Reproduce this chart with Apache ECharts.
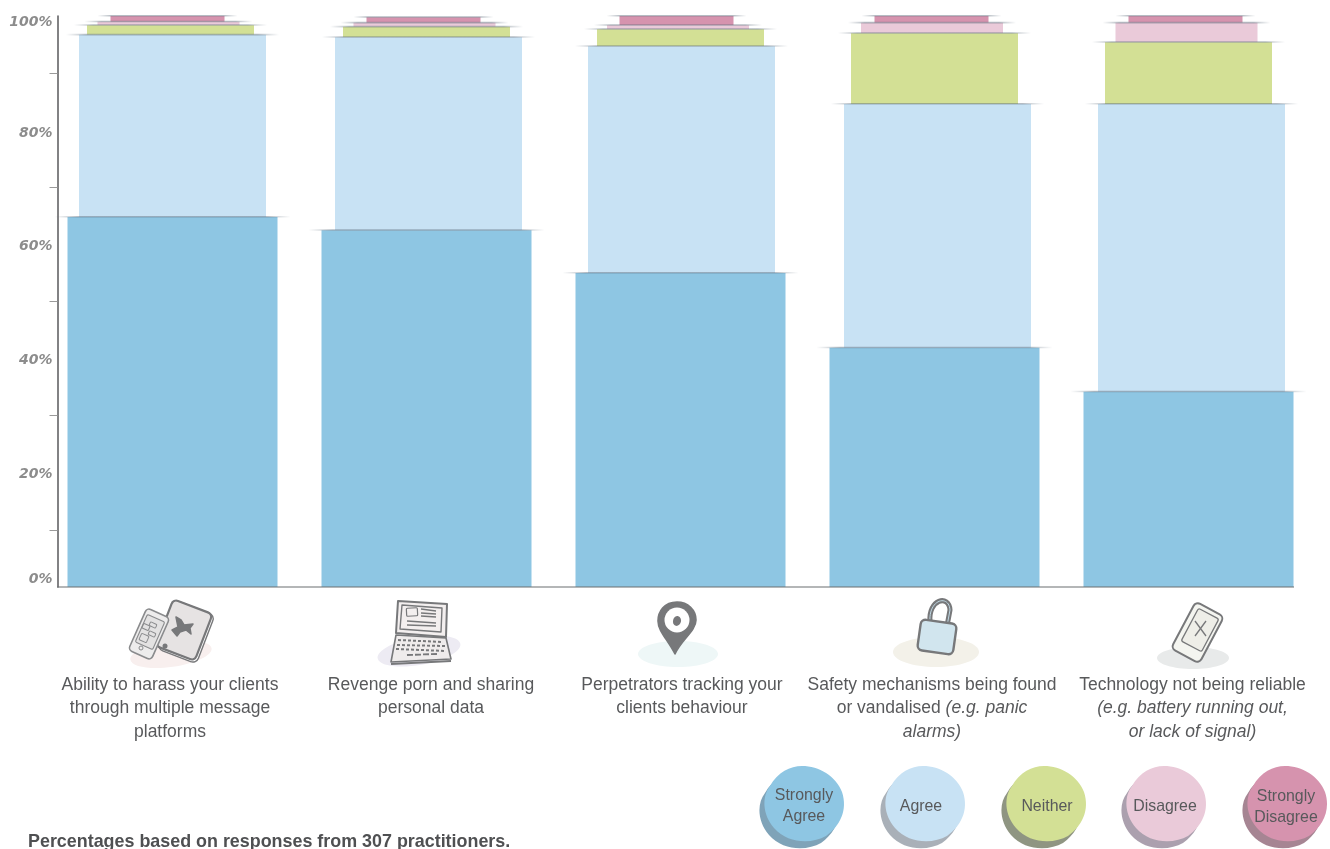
<!DOCTYPE html>
<html>
<head>
<meta charset="utf-8">
<style>html,body{margin:0;padding:0;background:#fff}#chart{width:1330px;height:849px}</style>
<script src="https://cdn.jsdelivr.net/npm/echarts@6/dist/echarts.min.js"></script>
</head>
<body>
<div id="chart"></div>
<script>
// ---- data ----
const categoryLines = [
  ['Ability to harass your clients', 'through multiple message', 'platforms'],
  ['Revenge porn and sharing', 'personal data'],
  ['Perpetrators tracking your', 'clients behaviour'],
  ['Safety mechanisms being found', 'or vandalised *(e.g. panic', '*alarms)'],
  ['Technology not being reliable', '*(e.g. battery running out,', '*or lack of signal)']
];
const seriesNames = ['Strongly Agree', 'Agree', 'Neither', 'Disagree', 'Strongly Disagree'];
const stronglyAgree = [64.8, 62.5, 55.0, 41.9, 34.2];
const agree = [31.9, 33.8, 39.7, 42.7, 50.4];
const neither = [1.7, 1.8, 3.0, 12.4, 10.8];
const disagree = [0.6, 0.7, 0.7, 1.8, 3.4];
const stronglyDisagree = [1.0, 1.0, 1.6, 1.2, 1.2];
const yLabelValues = [0, 20, 40, 60, 80, 100];
const yTickValues = [10, 30, 50, 70, 90];
const footnote = 'Percentages based on responses from 307 practitioners.';

// ---- styling ----
const seriesValues = [stronglyAgree, agree, neither, disagree, stronglyDisagree];
const colors = ['#8EC6E3', '#C8E2F4', '#D3E095', '#EACAD9', '#D693AE'];
const shadows = ['#7FA3B8', '#A9B0B8', '#8F9582', '#ABA0AE', '#A68593'];
const bandShare = [210, 187, 167, 142, 114].map(w => w / 254);
// the hand-drawn stacks are not perfectly centred: sideways nudge per series, per stack
const handNudge = [
  [0, 0, 0, 0, 0],
  [0, 2, 1, 3, 3],
  [-2, 0, 0, 0, 0],
  [-4, -2, -2.5, -2.5, -2],
  [-5, -3, -4, -3, -3]
];
const labelShift = [-5, 9, 3, -5, 8];
const font = '"Liberation Sans", Arial, sans-serif';
const textColor = '#58595b';

const yLabelNudge = {0: 'up', 80: 'down', 100: 'down2'};

function axisLabelFormatter(value, index) {
  const parts = categoryLines[index].map(line => {
    const star = line.indexOf('*');
    const toks = [];
    if (star < 0) toks.push(['n', line]);
    else {
      if (star > 0) toks.push(['n', line.slice(0, star)]);
      toks.push(['i', line.slice(star + 1)]);
    }
    // the sideways padding goes on one token only, so that it does not open a gap inside the line
    const padded = labelShift[index] >= 0 ? 0 : toks.length - 1;
    return toks.map((t, k) => '{' + t[0] + (k === padded ? 'p' : 'x') + index + '|' + t[1] + '}').join('');
  });
  return parts.join('\n');
}
const richCat = {};
labelShift.forEach((s, i) => {
  const padding = s >= 0 ? [0, 0, 0, s] : [0, -s, 0, 0];
  const base = {fontFamily: font, fontSize: 17.5, color: textColor, lineHeight: 23.6};
  richCat['np' + i] = Object.assign({padding}, base);
  richCat['nx' + i] = Object.assign({}, base);
  richCat['ip' + i] = Object.assign({padding, fontStyle: 'italic'}, base);
  richCat['ix' + i] = Object.assign({fontStyle: 'italic'}, base);
});

const totals = categoryLines.map(() => 0);
const customSeries = seriesValues.map((vals, si) => {
  const rows = vals.map((v, ci) => {
    const row = [ci, totals[ci], totals[ci] + v];
    totals[ci] += v;
    return row;
  });
  return {
    type: 'custom',
    name: seriesNames[si],
    z: 10 - si,
    encode: {x: 0, y: [1, 2]},
    data: rows,
    clip: false,
    itemStyle: {color: colors[si]},
    renderItem: function (params, api) {
      const cat = api.value(0);
      const low = api.coord([cat, api.value(1)]);
      const high = api.coord([cat, api.value(2)]);
      const band = api.size([1, 0])[0];
      const w = band * bandShare[si];
      const cx = low[0] + handNudge[si][cat];
      const ext = 13;
      return {
        type: 'group',
        children: [
          {type: 'rect', shape: {x: cx - w / 2, y: high[1], width: w, height: low[1] - high[1]},
           style: {fill: colors[si]}},
          {type: 'rect', shape: {x: cx - w / 2 - ext, y: high[1] - 1, width: w + 2 * ext, height: 1.6},
           style: {fill: {type: 'linear', x: 0, y: 0, x2: 1, y2: 0, colorStops: [
             {offset: 0, color: 'rgba(90,105,120,0)'},
             {offset: 0.1, color: 'rgba(90,105,120,0.45)'},
             {offset: 0.9, color: 'rgba(90,105,120,0.45)'},
             {offset: 1, color: 'rgba(90,105,120,0)'}]}}}
        ]
      };
    }
  };
});

// ---- decoration helpers (icons, legend blobs) ----
const ink = '#77787a';
const ell = (cx, cy, rx, ry, fill, rot) => ({type: 'ellipse', x: cx, y: cy, rotation: (rot || 0) * Math.PI / 180,
  shape: {cx: 0, cy: 0, rx, ry}, style: {fill}});
const path = (d, style) => ({type: 'path', shape: {pathData: d}, style: Object.assign({fill: 'none', stroke: ink, lineWidth: 1.6, lineJoin: 'round', lineCap: 'round'}, style)});
const poly = (pts, style) => ({type: 'polygon', shape: {points: pts}, style: Object.assign({fill: 'none', stroke: ink, lineWidth: 1.6, lineJoin: 'round'}, style)});
const ln = (x1, y1, x2, y2, style) => ({type: 'line', shape: {x1, y1, x2, y2}, style: Object.assign({stroke: ink, lineWidth: 1.3}, style)});
const circ = (cx, cy, r, style) => ({type: 'circle', shape: {cx, cy, r}, style: Object.assign({fill: ink}, style)});
const rrect = (cx, cy, w, h, deg, r, style) => ({type: 'rect', x: cx, y: cy, rotation: -deg * Math.PI / 180,
  shape: {x: -w / 2, y: -h / 2, width: w, height: h, r}, style: Object.assign({fill: 'none', stroke: ink, lineWidth: 1.6}, style)});

const icons = [
  // tablet + phone
  ell(171, 654, 41, 13, '#F8EFEE', 8),
  rrect(186, 632, 42, 52, 21, 6, {fill: '#fff', lineWidth: 1.4}),
  rrect(184, 630, 42, 50, 21, 5, {fill: '#E6E3E3', lineWidth: 2.2}),
  rrect(149, 634, 25, 46, 24, 4, {fill: '#EDECEC', stroke: '#8a8b8d'}),
  rrect(150, 632, 19, 30, 24, 1.5, {fill: '#E3E2E2', stroke: '#8a8b8d', lineWidth: 1.1}),
  rrect(153, 625, 7, 4, 24, 1, {stroke: '#8a8b8d', lineWidth: 1}),
  rrect(146, 627, 7, 5, 24, 1, {stroke: '#8a8b8d', lineWidth: 1}),
  rrect(152, 634, 7, 4, 24, 1, {stroke: '#8a8b8d', lineWidth: 1}),
  rrect(144, 638, 8, 7, 24, 1, {stroke: '#8a8b8d', lineWidth: 1}),
  circ(141, 648, 2, {fill: 'none', stroke: '#8a8b8d', lineWidth: 1}),
  circ(165, 646, 2.5),
  path('M172 630 L178 627 L176 617 L181 620 L184 625 L193 624 L190 628 L191 634 L186 630 L180 632 L177 636 Z', {fill: ink, stroke: ink, lineWidth: 1.5}),
  // laptop
  ell(419, 651, 42, 14, '#EDEBF3', 10),
  poly([[398, 601], [447, 604], [446, 637], [396, 633]], {fill: '#F3EFEF', lineWidth: 2}),
  poly([[402, 605], [442, 608], [441, 632], [400, 629]], {fill: '#F3EFEF', lineWidth: 1.4}),
  rrect(412, 612, 11, 8, -3, 1, {lineWidth: 1.2}),
  ln(421, 609, 436, 611), ln(421, 613, 436, 614), ln(421, 616, 436, 617),
  ln(407, 621, 436, 623), ln(407, 625, 436, 626),
  poly([[396, 635], [446, 638], [451, 659], [391, 662]], {fill: '#EFECEC', lineWidth: 1.6}),
  ln(391, 664, 451, 661, {lineWidth: 2}),
  ln(398, 640, 443, 642, {lineDash: [3, 2], lineWidth: 2}),
  ln(397, 645, 445, 646, {lineDash: [3, 2], lineWidth: 2}),
  ln(396, 649, 446, 651, {lineDash: [3, 2], lineWidth: 2}),
  ln(407, 655, 437, 654, {lineDash: [6, 2], lineWidth: 1.8}),
  // pin
  ell(678, 654, 40, 13, '#EEF7F7', 0),
  path('M677 602 C664 602 658 612 658 621 C658 631 668 640 675 654 C681 640 696 631 696 620 C696 610 688 602 677 602 Z', {fill: ink, stroke: ink}),
  circ(677, 620, 12.5, {fill: '#fff'}),
  ell(677, 621, 4, 5, ink, -15),
  // padlock
  ell(936, 652, 43, 15, '#F3F1E9', 0),
  path('M930 622 C928 599 949 594 950 610 L947 626', {stroke: ink, lineWidth: 5}),
  path('M930 622 C928 599 949 594 950 610 L947 626', {stroke: '#BFD8E4', lineWidth: 1}),
  rrect(937, 637, 36, 31, 8, 5, {fill: '#D1E5EE', lineWidth: 2.4}),
  // broken phone
  ell(1193, 658, 36, 11, '#E8EAEA', 0),
  rrect(1197.5, 632.5, 32, 53, 28, 5, {fill: '#F4F5F0', lineWidth: 2}),
  rrect(1200, 630, 23, 37, 28, 2, {fill: '#EEEEE8', lineWidth: 1.3}),
  circ(1188, 650, 2.6, {fill: 'none', lineWidth: 1.2}),
  ln(1195, 621, 1206, 636), ln(1206, 621, 1195, 636),
  circ(1201, 629, 4, {fill: 'none', lineWidth: 1})
];

const blobPath = 'M38 0 C55 0 72 10 78 26 C84 44 76 60 62 70 C48 78 24 78 10 62 C-2 48 -2 30 6 20 C14 6 26 0 38 0 Z';
const legendX = [764, 885, 1006, 1126, 1247];
const legendTextX = [804, 921, 1047, 1165, 1286];
const legendTextY = [806, 807, 807, 807, 807];
const legendLabels = seriesNames.map(n => n.replace(' ', '\n'));
const legendGraphics = [];
seriesNames.forEach((n, i) => {
  legendGraphics.push({type: 'path', x: legendX[i] - 5, y: 773, shape: {pathData: blobPath}, style: {fill: shadows[i]}});
  legendGraphics.push({type: 'path', x: legendX[i], y: 766, shape: {pathData: blobPath}, style: {fill: colors[i]}});
  legendGraphics.push({type: 'text', x: legendTextX[i], y: legendTextY[i],
    style: {text: legendLabels[i], font: '15.9px ' + font, fill: textColor, align: 'center', verticalAlign: 'middle', lineHeight: 21}});
});

const decorations = [
  {type: 'line', shape: {x1: 57, y1: 587, x2: 1294, y2: 587}, style: {stroke: '#6b6e70', lineWidth: 1.2}},
  {type: 'text', x: 28, y: 842, style: {text: footnote, font: 'bold 17.9px ' + font, fill: '#4f5052', verticalAlign: 'middle'}}
].concat(icons, legendGraphics);

const decorationSeries = {
  type: 'custom',
  silent: true,
  tooltip: {show: false},
  z: 20,
  clip: false,
  encode: {x: 0, y: 1},
  data: [[0, 0]],
  renderItem: () => ({type: 'group', children: decorations})
};

const yStyle = {fontFamily: '"DejaVu Sans"', fontSize: 14, fontWeight: 'bold', fontStyle: 'italic', color: '#8c8c8c'};
const chart = echarts.init(document.getElementById('chart'), null, {renderer: 'canvas'});
chart.setOption({
  animation: false,
  backgroundColor: '#fff',
  grid: {left: 45.5, top: 16, width: 1270, height: 571, containLabel: false},
  xAxis: {
    type: 'category',
    data: categoryLines.map(l => l.join(' ').replace(/\*/g, '')),
    axisLine: {show: false},
    axisTick: {show: false},
    axisLabel: {interval: 0, margin: 86, verticalAlign: 'top', hideOverlap: false, formatter: axisLabelFormatter, rich: richCat}
  },
  yAxis: {
    type: 'value',
    min: 0, max: 100,
    offset: -12,
    splitLine: {show: false},
    axisLine: {show: true, lineStyle: {color: '#58595b', width: 1.5}},
    axisTick: {show: true, length: 8, customValues: yTickValues, lineStyle: {color: '#9a9a9a', width: 1}},
    axisLabel: {
      customValues: yLabelValues,
      margin: 5,
      formatter: function (v) {
        const key = yLabelNudge[v] || 'p';
        return '{' + key + '|' + v + '%}';
      },
      rich: {
        p: Object.assign({padding: [3, 0, 0, 0]}, yStyle),
        up: Object.assign({padding: [0, 0, 15, 0]}, yStyle),
        down: Object.assign({padding: [7, 0, 0, 0]}, yStyle),
        down2: Object.assign({padding: [12, 0, 0, 0]}, yStyle)
      }
    }
  },
  series: customSeries.concat([decorationSeries])
});
</script>
</body>
</html>
